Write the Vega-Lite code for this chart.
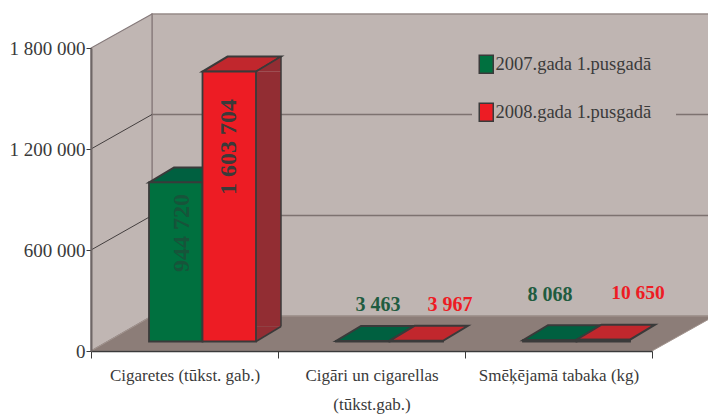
{
"$schema":"https://vega.github.io/schema/vega-lite/v6.json",
"width":561,"height":303,"autosize":{"type":"none"},
"padding":{"left":91,"top":48,"right":56,"bottom":63},
"background":"white",
"config":{"view":{"stroke":null},"font":"Liberation Serif"},
"datasets":{
"rows":[
{"category":"Cigaretes (tūkst. gab.)","series":"2007.gada 1.pusgadā","value":944720,"label":"944 720"},
{"category":"Cigaretes (tūkst. gab.)","series":"2008.gada 1.pusgadā","value":1603704,"label":"1 603 704"},
{"category":"Cigāri un cigarellas (tūkst.gab.)","series":"2007.gada 1.pusgadā","value":3463,"label":"3 463"},
{"category":"Cigāri un cigarellas (tūkst.gab.)","series":"2008.gada 1.pusgadā","value":3967,"label":"3 967"},
{"category":"Smēķējamā tabaka (kg)","series":"2007.gada 1.pusgadā","value":8068,"label":"8 068"},
{"category":"Smēķējamā tabaka (kg)","series":"2008.gada 1.pusgadā","value":10650,"label":"10 650"}
],
"origin":[{"category":"Cigaretes (tūkst. gab.)","value":0}],
"grid":[{"value":600000},{"value":1200000}]
},
"data":{"name":"rows"},
"layer":[
{"data":{"name":"origin"},"mark":{"type":"point","shape":"M-32.5,-337L530,-337L530,-35L-32.5,-35Z","size":4,"filled":true,"fill":"#bfb5b2","stroke":"#978b88","strokeWidth":1.5,"opacity":1},
"encoding":{"x":{"field":"category","type":"nominal","sort":null,"scale":{"domain":["Cigaretes (tūkst. gab.)","Cigāri un cigarellas (tūkst.gab.)","Smēķējamā tabaka (kg)"],"paddingInner":0,"paddingOuter":0},"axis":{"title":null,"labelAngle":0,"labelFontSize":17,"labelColor":"#3a3a3a","labelPadding":9,"labelBaseline":"top","labelLineHeight":29,"labelLimit":300,"labelOverlap":false,"labelExpr":"indexof(datum.label,' (tūkst.gab.)')>0 ? [replace(datum.label,' (tūkst.gab.)',''),'(tūkst.gab.)'] : datum.label","tickBand":"extent","tickSize":7,"tickColor":"#3a3a3a","tickWidth":1,"domainColor":"#3a3a3a","domainWidth":1.5,"zindex":1}},
"y":{"field":"value","type":"quantitative","scale":{"domain":[0,1800000],"nice":false},"axis":{"title":null,"values":[0,600000,1200000,1800000],"labelFontSize":19,"labelColor":"#3a3a3a","labelPadding":1,"labelExpr":"replace(format(datum.value,','),/,/g,' ')","tickSize":5,"tickColor":"#3a3a3a","tickWidth":1,"domainColor":"#6e6666","domainWidth":2,"grid":false,"zindex":1}}}},
{"data":{"name":"origin"},"mark":{"type":"point","shape":"M-93.5,0L-32.5,-35L-32.5,-337L-93.5,-303Z","size":4,"filled":true,"fill":"#c0b6b3","stroke":"#85797a","strokeWidth":1.2,"opacity":1},
"encoding":{"x":{"field":"category","type":"nominal"},"y":{"field":"value","type":"quantitative"}}},
{"data":{"name":"origin"},"mark":{"type":"point","shape":"M-93.5,0L-32.5,-35L530,-35L467.5,0Z","size":4,"filled":true,"fill":"#8c7d78","stroke":"#a3958f","strokeWidth":1,"opacity":1},
"encoding":{"x":{"field":"category","type":"nominal"},"y":{"field":"value","type":"quantitative"}}},
{"data":{"name":"grid"},"mark":{"type":"point","shape":"M-93.5,0L-32.5,-34.5","size":4,"filled":false,"stroke":"#443f3f","strokeWidth":1,"opacity":1},
"encoding":{"x":{"datum":"Cigaretes (tūkst. gab.)","type":"nominal"},"y":{"field":"value","type":"quantitative"}}},
{"data":{"name":"grid"},"transform":[{"filter":"datum.value==600000"}],"mark":{"type":"point","shape":"M-32.5,-34.5L530,-34.5","size":4,"filled":false,"stroke":"#7d7270","strokeWidth":1.5,"opacity":1},
"encoding":{"x":{"datum":"Cigaretes (tūkst. gab.)","type":"nominal"},"y":{"field":"value","type":"quantitative"}}},
{"data":{"name":"grid"},"transform":[{"filter":"datum.value==1200000"}],"mark":{"type":"point","shape":"M-32.5,-34.5L287.5,-34.5M491.5,-34.5L530,-34.5","size":4,"filled":false,"stroke":"#7d7270","strokeWidth":1.5,"opacity":1},
"encoding":{"x":{"datum":"Cigaretes (tūkst. gab.)","type":"nominal"},"y":{"field":"value","type":"quantitative"}}},
{"mark":{"type":"point","shape":"M-26.75,-9.5L26.75,-9.5L51.75,-24.5L-1.75,-24.5Z","size":4,"filled":true,"stroke":"#3a3a3a","strokeWidth":2,"opacity":1},
"encoding":{"x":{"field":"category","type":"nominal"},"xOffset":{"field":"series","type":"nominal","scale":{"domain":["2007.gada 1.pusgadā","2008.gada 1.pusgadā"],"range":[58,165],"paddingInner":0,"paddingOuter":0}},"y":{"field":"value","type":"quantitative"},
"fill":{"condition":{"test":"indexof(datum.series,'2007')==0","value":"#006040"},"value":"#c1272d"}}},
{"transform":[{"filter":"indexof(datum.series,'2008')==0 && datum.value>100000"}],"mark":{"type":"bar","width":25,"xOffset":84,"yOffset":-9.5,"y2Offset":-24.5,"fill":"#922d33"},
"encoding":{"x":{"field":"category","type":"nominal"},"y":{"field":"value","type":"quantitative"},"y2":{"datum":0}}},
{"transform":[{"filter":"indexof(datum.series,'2008')==0 && datum.value>100000"}],"mark":{"type":"point","shape":"M26.75,-9.5L51.75,-24.5L51.75,-9.5Z","size":4,"filled":true,"fill":"#922d33","opacity":1},
"encoding":{"x":{"field":"category","type":"nominal"},"xOffset":{"field":"series","type":"nominal"},"y":{"field":"value","type":"quantitative"}}},
{"transform":[{"filter":"indexof(datum.series,'2008')==0 && datum.value>100000"}],"mark":{"type":"point","shape":"M26.75,-9.5L51.75,-24.5L26.75,-24.5Z","size":4,"filled":true,"fill":"#922d33","opacity":1},
"encoding":{"x":{"field":"category","type":"nominal"},"xOffset":{"field":"series","type":"nominal"},"y":{"datum":0}}},
{"transform":[{"filter":"indexof(datum.series,'2008')==0 && datum.value>100000"}],"mark":{"type":"point","shape":"M26.75,-9.5L51.75,-24.5","size":4,"filled":false,"stroke":"#3a3a3a","strokeWidth":1.5,"opacity":1},
"encoding":{"x":{"field":"category","type":"nominal"},"xOffset":{"field":"series","type":"nominal"},"y":{"datum":0}}},
{"transform":[{"filter":"indexof(datum.series,'2008')==0 && datum.value>100000"}],"mark":{"type":"point","shape":"M26.75,-9.5L51.75,-24.5","size":4,"filled":false,"stroke":"#3a3a3a","strokeWidth":1.5,"opacity":1},
"encoding":{"x":{"field":"category","type":"nominal"},"xOffset":{"field":"series","type":"nominal"},"y":{"field":"value","type":"quantitative"}}},
{"transform":[{"filter":"indexof(datum.series,'2008')==0 && datum.value>100000"}],"mark":{"type":"bar","width":1.5,"xOffset":96.5,"yOffset":-24.5,"y2Offset":-24.5,"fill":"#3a3a3a"},
"encoding":{"x":{"field":"category","type":"nominal"},"y":{"field":"value","type":"quantitative"},"y2":{"datum":0}}},
{"mark":{"type":"bar","yOffset":-9.5,"y2Offset":-9.5,"stroke":"#3a3a3a","strokeWidth":1.8},
"encoding":{"x":{"field":"category","type":"nominal"},"xOffset":{"field":"series","type":"nominal"},"y":{"field":"value","type":"quantitative"},"y2":{"datum":0},
"color":{"field":"series","type":"nominal","scale":{"domain":["2007.gada 1.pusgadā","2008.gada 1.pusgadā"],"range":["#00703f","#ed1c24"]},
"legend":{"title":null,"orient":"none","legendX":386,"legendY":7,"padding":0,"labelFontSize":18.5,"labelColor":"#3a3a3a","labelLimit":300,"labelOffset":0,"rowPadding":23,"symbolType":"M-1,-1.29H1V1.29H-1Z","symbolSize":196,"symbolStrokeColor":"#3a3a3a","symbolStrokeWidth":1.5}}}},
{"transform":[{"filter":"datum.label=='944 720'"}],"mark":{"type":"text","angle":270,"fontSize":24,"fontWeight":"bold","fill":"#17543a","xOffset":-2.5,"yOffset":41},
"encoding":{"x":{"field":"category","type":"nominal"},"y":{"field":"value","type":"quantitative"},"text":{"field":"label"}}},
{"transform":[{"filter":"datum.label=='1 603 704'"}],"mark":{"type":"text","angle":270,"fontSize":24,"fontWeight":"bold","fill":"#3a3a3a","xOffset":44.5,"yOffset":66},
"encoding":{"x":{"field":"category","type":"nominal"},"y":{"field":"value","type":"quantitative"},"text":{"field":"label"}}},
{"transform":[{"filter":"datum.label=='3 463'"}],"mark":{"type":"text","fontSize":20,"fontWeight":"bold","fill":"#1f5c40","xOffset":6.5,"yOffset":-45},
"encoding":{"x":{"field":"category","type":"nominal"},"y":{"field":"value","type":"quantitative"},"text":{"field":"label"}}},
{"transform":[{"filter":"datum.label=='3 967'"}],"mark":{"type":"text","fontSize":20,"fontWeight":"bold","fill":"#ed1c24","xOffset":78.5,"yOffset":-45},
"encoding":{"x":{"field":"category","type":"nominal"},"y":{"field":"value","type":"quantitative"},"text":{"field":"label"}}},
{"transform":[{"filter":"datum.label=='8 068'"}],"mark":{"type":"text","fontSize":20,"fontWeight":"bold","fill":"#1f5c40","xOffset":-8.5,"yOffset":-54.6},
"encoding":{"x":{"field":"category","type":"nominal"},"y":{"field":"value","type":"quantitative"},"text":{"field":"label"}}},
{"transform":[{"filter":"datum.label=='10 650'"}],"mark":{"type":"text","fontSize":19.5,"fontWeight":"bold","fill":"#ed1c24","xOffset":79.5,"yOffset":-56},
"encoding":{"x":{"field":"category","type":"nominal"},"y":{"field":"value","type":"quantitative"},"text":{"field":"label"}}}
]
}
